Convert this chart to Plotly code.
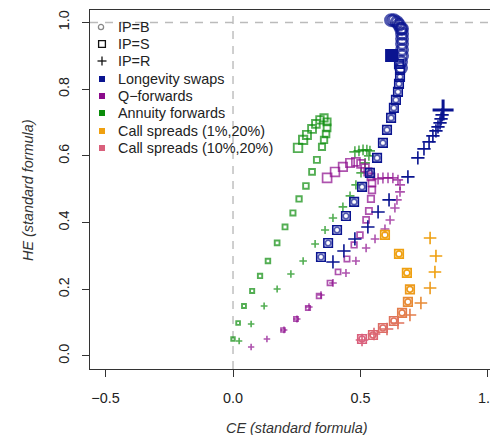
import numpy as np
import plotly.graph_objects as go

# ---------------- data ----------------
# Longevity swaps
ls_B_x = [0.345, 0.373, 0.408, 0.443, 0.475, 0.506, 0.537, 0.565, 0.588, 0.604, 0.620, 0.631, 0.639, 0.647,
          0.651, 0.655, 0.659, 0.659, 0.663, 0.663, 0.663, 0.663, 0.663, 0.663, 0.659, 0.651, 0.643, 0.631,
          0.620]
ls_B_y = [0.297, 0.339, 0.378, 0.420, 0.462, 0.507, 0.549, 0.594, 0.639, 0.678, 0.714, 0.744, 0.768, 0.792,
          0.816, 0.837, 0.864, 0.882, 0.900, 0.918, 0.936, 0.951, 0.966, 0.981, 0.981, 0.993, 1.001, 1.007,
          1.007]
ls_S_x = [0.345, 0.373, 0.408, 0.443, 0.475, 0.506, 0.537, 0.565, 0.588, 0.604, 0.620, 0.631, 0.639, 0.647,
          0.651, 0.655, 0.655, 0.651]
ls_S_y = [0.297, 0.339, 0.378, 0.420, 0.462, 0.507, 0.549, 0.594, 0.639, 0.678, 0.714, 0.744, 0.768, 0.792,
          0.816, 0.837, 0.858, 0.876]
ls_S_ref = [0.622, 0.901]
ls_R_x = [0.392, 0.435, 0.478, 0.529, 0.569, 0.612, 0.686, 0.725, 0.749, 0.769, 0.784, 0.796, 0.804, 0.812,
          0.816, 0.820]
ls_R_y = [0.282, 0.315, 0.351, 0.387, 0.432, 0.468, 0.537, 0.594, 0.621, 0.642, 0.660, 0.675, 0.687, 0.699,
          0.711, 0.723]
ls_R_ref = [0.824, 0.738]

# Q-forwards
qf_S_x = [0.196, 0.247, 0.294, 0.337, 0.380, 0.412, 0.447, 0.475, 0.498, 0.522, 0.533, 0.541, 0.545, 0.545,
          0.541, 0.529, 0.518, 0.502, 0.482, 0.459, 0.431, 0.400, 0.369]
qf_S_y = [0.078, 0.111, 0.144, 0.180, 0.219, 0.252, 0.291, 0.333, 0.363, 0.408, 0.435, 0.471, 0.498, 0.519,
          0.537, 0.552, 0.564, 0.576, 0.582, 0.579, 0.567, 0.552, 0.534]
qf_R_x = [0.071, 0.133, 0.200, 0.251, 0.298, 0.345, 0.392, 0.443, 0.482, 0.522, 0.557, 0.596, 0.616, 0.635,
          0.643, 0.655, 0.655, 0.647, 0.627, 0.608, 0.588, 0.569]
qf_R_y = [0.027, 0.051, 0.078, 0.111, 0.147, 0.183, 0.219, 0.249, 0.285, 0.324, 0.351, 0.381, 0.408, 0.444,
          0.468, 0.492, 0.513, 0.528, 0.534, 0.534, 0.534, 0.531]

# Annuity forwards
af_S_x = [0.000, 0.020, 0.043, 0.075, 0.106, 0.137, 0.173, 0.204, 0.235, 0.259, 0.286, 0.310, 0.329, 0.349,
          0.357, 0.365, 0.369, 0.369, 0.357, 0.341, 0.325, 0.310, 0.290, 0.275, 0.255]
af_S_y = [0.051, 0.099, 0.150, 0.195, 0.240, 0.285, 0.339, 0.387, 0.429, 0.471, 0.510, 0.552, 0.588, 0.627,
          0.648, 0.666, 0.684, 0.702, 0.714, 0.708, 0.696, 0.681, 0.663, 0.648, 0.624]
af_R_x = [0.024, 0.071, 0.122, 0.173, 0.227, 0.275, 0.322, 0.361, 0.392, 0.431, 0.459, 0.482, 0.502, 0.518,
          0.533, 0.537, 0.525, 0.510, 0.494, 0.478]
af_R_y = [0.045, 0.096, 0.150, 0.201, 0.246, 0.285, 0.336, 0.378, 0.414, 0.447, 0.480, 0.513, 0.549, 0.579,
          0.600, 0.615, 0.618, 0.618, 0.615, 0.612]

# Call spreads (from (10%,20%) at the bottom to (1%,20%) at the top)
cs_S_x = [0.506, 0.549, 0.588, 0.631, 0.663, 0.686, 0.694, 0.682, 0.651, 0.596]
cs_S_y = [0.051, 0.063, 0.084, 0.105, 0.129, 0.162, 0.200, 0.249, 0.306, 0.363]
cs_R_x = [0.506, 0.553, 0.604, 0.647, 0.694, 0.737, 0.773, 0.792, 0.796, 0.773]
cs_R_y = [0.048, 0.066, 0.081, 0.099, 0.123, 0.159, 0.204, 0.252, 0.300, 0.354]

legend_ip = ["IP=B", "IP=S", "IP=R"]
legend_products = ["Longevity swaps", "Q\u2212forwards", "Annuity forwards",
                   "Call spreads (1%,20%)", "Call spreads (10%,20%)"]
x_ticks = [-0.5, 0.0, 0.5, 1.0]
y_ticks = [0.0, 0.2, 0.4, 0.6, 0.8, 1.0]
x_title = "CE (standard formula)"
y_title = "HE (standard formula)"

# ---------------- style ----------------
W, H = 490, 435
ML, MR, MT, MB = 90, 0, 10, 66
X_RANGE = [-0.561, 1.008]
Y_RANGE = [-0.039, 1.0375]
FONT = "Liberation Sans, Arial, Helvetica, sans-serif"
FS = 14.4
TXT = "#222222"

C_BLUE = "#0a1490"
C_PURPLE = "#8b0a8b"
C_GREEN = "#0a8c0a"
C_ORANGE = "#efa010"
C_PINK = "#d9607c"
LEG_COLORS = [C_BLUE, C_PURPLE, C_GREEN, C_ORANGE, C_PINK]
LW = 1.5


def ramp(a, b, n):
    return list(np.linspace(a, b, n))


def blend(c1, c2, t):
    a = [int(c1[i:i + 2], 16) for i in (1, 3, 5)]
    b = [int(c2[i:i + 2], 16) for i in (1, 3, 5)]
    return "#" + "".join(f"{int(round(a[k] + (b[k] - a[k]) * t)):02x}" for k in range(3))


cs_t = [1.0, 0.9, 0.8, 0.7, 0.55, 0.35, 0.1, 0.0, 0.0, 0.0]
cs_cols = [blend(C_ORANGE, C_PINK, t) for t in cs_t]

fig = go.Figure()


def add(x, y, symbol, color, size, width=LW):
    fig.add_trace(go.Scatter(
        x=x, y=y, mode="markers", showlegend=False, hoverinfo="skip",
        marker=dict(symbol=symbol, color=color, size=size,
                    line=dict(color=color, width=width))))


# Annuity forwards
add(af_S_x, af_S_y, "square-open", C_GREEN, ramp(3.5, 8.5, len(af_S_x)), 1.9)
add(af_R_x, af_R_y, "cross-thin-open", C_GREEN, ramp(4.5, 8, len(af_R_x)), 1.6)
# Q-forwards
add(qf_S_x, qf_S_y, "square-open", C_PURPLE, ramp(4, 9, len(qf_S_x)), 1.7)
add(qf_R_x, qf_R_y, "cross-thin-open", C_PURPLE, ramp(4.5, 8, len(qf_R_x)), 1.6)
# Longevity swaps
n_low = 16
add(ls_B_x, ls_B_y, "circle-open", C_BLUE,
    [5.5] * n_low + [11] * (len(ls_B_x) - n_low),
    [1.6] * n_low + [3.0] * (len(ls_B_x) - n_low))
add(ls_S_x, ls_S_y, "square-open", C_BLUE, 8.5, 1.6)
add(ls_R_x, ls_R_y, "cross-thin-open", C_BLUE, 9.5, 1.6)
add([ls_S_ref[0]], [ls_S_ref[1]], "square", C_BLUE, 13, 0)
add([ls_R_ref[0]], [ls_R_ref[1]], "cross-thin-open", C_BLUE, 15, 3)
# Call spreads
add(cs_S_x, cs_S_y, "circle-open", cs_cols, 6, 1.7)
add(cs_S_x, cs_S_y, "square-open", cs_cols, 8.5, 1.7)
add(cs_R_x, cs_R_y, "cross-thin-open", cs_cols, 9, 1.6)

# reference dashed lines
shapes = [
    dict(type="line", xref="paper", yref="y", x0=0, x1=1, y0=1, y1=1, layer="below",
         line=dict(color="#bbbbbb", width=1.4, dash="8px,7px")),
    dict(type="line", xref="x", yref="paper", x0=0, x1=0, y0=0, y1=1, layer="below",
         line=dict(color="#bbbbbb", width=1.4, dash="8px,7px")),
]


def px_x(px):
    return (px - ML) / (W - ML - MR)


def px_y(py):
    return (H - MB - py) / (H - MT - MB)


annotations = []
row_y = [27, 44, 61, 79, 96, 113, 131, 148]
sym_x = 102
txt_x = 116
labels = legend_ip + legend_products
for i, (cy, lab) in enumerate(zip(row_y, labels)):
    if i == 0:
        r = 2.6
        shapes.append(dict(type="circle", xref="paper", yref="paper",
                           x0=px_x(sym_x - 1 - r), x1=px_x(sym_x - 1 + r),
                           y0=px_y(cy + r), y1=px_y(cy - r),
                           line=dict(color="#888888", width=1.3)))
    elif i == 1:
        r = 3.4
        shapes.append(dict(type="rect", xref="paper", yref="paper",
                           x0=px_x(sym_x - r), x1=px_x(sym_x + r),
                           y0=px_y(cy + r), y1=px_y(cy - r),
                           line=dict(color="#111111", width=1.3)))
    elif i == 2:
        r = 4.5
        shapes.append(dict(type="line", xref="paper", yref="paper",
                           x0=px_x(sym_x - r), x1=px_x(sym_x + r),
                           y0=px_y(cy), y1=px_y(cy), line=dict(color="#111111", width=1.3)))
        shapes.append(dict(type="line", xref="paper", yref="paper",
                           x0=px_x(sym_x), x1=px_x(sym_x),
                           y0=px_y(cy + r), y1=px_y(cy - r), line=dict(color="#111111", width=1.3)))
    else:
        r = 3.0
        shapes.append(dict(type="rect", xref="paper", yref="paper",
                           x0=px_x(sym_x - r), x1=px_x(sym_x + r),
                           y0=px_y(cy + r), y1=px_y(cy - r),
                           fillcolor=LEG_COLORS[i - 3], line=dict(width=0)))
    annotations.append(dict(xref="paper", yref="paper", x=px_x(txt_x), y=px_y(cy),
                            xanchor="left", yanchor="middle", showarrow=False, text=lab,
                            font=dict(family=FONT, size=FS, color=TXT)))

# axis titles
annotations.append(dict(xref="paper", yref="paper", x=px_x(297), y=px_y(428),
                        xanchor="center", yanchor="middle", showarrow=False,
                        text=f"<i>{x_title}</i>", font=dict(family=FONT, size=FS, color="#333333")))
annotations.append(dict(xref="paper", yref="paper", x=px_x(28), y=px_y(190),
                        xanchor="center", yanchor="middle", showarrow=False, textangle=-90,
                        text=f"<i>{y_title}</i>", font=dict(family=FONT, size=FS, color="#333333")))

axis_common = dict(showgrid=False, zeroline=False, showline=True, linecolor="#333333", linewidth=1,
                   ticks="outside", ticklen=7, tickwidth=1, tickcolor="#333333",
                   tickfont=dict(family=FONT, size=FS, color=TXT), tickformat=".1f",
                   ticklabeloverflow="allow", automargin=False)

fig.update_layout(
    width=W, height=H,
    margin=dict(l=ML, r=MR, t=MT, b=MB, pad=0, autoexpand=False),
    paper_bgcolor="white", plot_bgcolor="white",
    font=dict(family=FONT, size=FS, color=TXT),
    xaxis=dict(range=X_RANGE, tickvals=x_ticks, mirror=True, ticklabelstandoff=9, **axis_common),
    yaxis=dict(range=Y_RANGE, tickvals=y_ticks, tickangle=-90, mirror=False, ticklabelstandoff=7,
               **axis_common),
    shapes=shapes, annotations=annotations, showlegend=False,
)

fig.write_html("out.html")
